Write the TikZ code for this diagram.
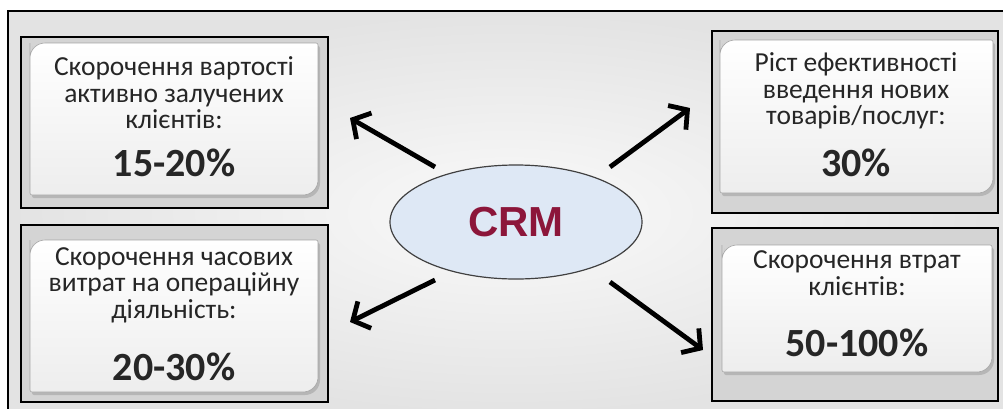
\documentclass[tikz,border=0pt]{standalone}
\usepackage{fontspec}
\setmainfont{Carlito}
\newfontfamily\crmfont{Liberation Sans}
\usetikzlibrary{arrows.meta,shapes.geometric,shadows}
\definecolor{crmred}{RGB}{140,22,58}
\definecolor{ellfill}{RGB}{222,232,245}
\definecolor{boxgray}{RGB}{212,212,212}
\begin{document}
\begin{tikzpicture}[x=1pt,y=-1pt,
  outerbox/.style={draw=black,line width=1.4pt,fill=boxgray},
  innerbox/.style={draw=gray!70,line width=0.6pt,top color=white,bottom color=gray!14,
     drop shadow={shadow xshift=2pt,shadow yshift=-3pt,opacity=0.35}},
  desc/.style={font=\fontsize{27.5}{26.5}\selectfont,text=black!85,align=center,inner sep=0pt},
  pct/.style={font=\fontsize{40}{42}\selectfont\bfseries,text=black!85,inner sep=0pt},
  arr/.style={line width=4.8pt,-{Straight Barb[length=13pt,width=30pt]}}]
\useasboundingbox (0,0) rectangle (1003,408);
\fill[white] (0,0) rectangle (1003,408);
\shade[inner color=gray!4,outer color=gray!22,shading=radial] (8,11) rectangle (1010,415);
\draw[line width=1.4pt] (8,415) -- (8,11) -- (1010,11);
% outer boxes
\draw[outerbox] (21,37) rectangle (328,208);
\draw[outerbox] (712,31) rectangle (998,213);
\draw[outerbox] (21,225) rectangle (328,402);
\draw[outerbox] (712,228) rectangle (998,401);
% inner rounded boxes (round diagonal corners)
\path[innerbox] (30,58) [rounded corners=2pt] -- (30,195) [rounded corners=15pt] -- (318,195) [rounded corners=2pt] -- (318,43) [rounded corners=15pt] -- (30,43) -- cycle;
\path[innerbox] (720,55) [rounded corners=2pt] -- (720,193) [rounded corners=15pt] -- (993,193) [rounded corners=2pt] -- (993,40) [rounded corners=15pt] -- (720,40) -- cycle;
\path[innerbox] (30,255) [rounded corners=2pt] -- (30,392) [rounded corners=15pt] -- (318,392) [rounded corners=2pt] -- (318,240) [rounded corners=15pt] -- (30,240) -- cycle;
\path[innerbox] (722,260) [rounded corners=2pt] -- (722,372) [rounded corners=15pt] -- (992,372) [rounded corners=2pt] -- (992,245) [rounded corners=15pt] -- (722,245) -- cycle;
% texts
\node[desc] (t1) at (174,93) {Скорочення вартості\\активно залучених\\клієнтів:};
\node[pct] (p1) at (174,163) {15-20\%};
\node[desc] (t2) at (856,91) {Ріст ефективності\\введення нових\\товарів/послуг:};
\node[pct] (p2) at (856,163) {30\%};
\node[desc] (t3) at (174,285) {Скорочення часових\\витрат на операційну\\діяльність:};
\node[pct] (p3) at (174,367) {20-30\%};
\node[desc] (t4) at (857,273) {Скорочення втрат\\клієнтів:};
\node[pct] (p4) at (857,343) {50-100\%};
% center ellipse
\node[ellipse,draw=black!75,line width=1.2pt,fill=ellfill,minimum width=252pt,minimum height=114pt,
      font=\crmfont\bfseries\fontsize{42}{44}\selectfont,text=crmred] (crm) at (516,222) {CRM};
% arrows
\coordinate (a1s) at (435,167); \coordinate (a1e) at (350,118);
\coordinate (a2s) at (610,167); \coordinate (a2e) at (690,108);
\coordinate (a3s) at (435,280); \coordinate (a3e) at (350,322);
\coordinate (a4s) at (610,282); \coordinate (a4e) at (703,350);
\draw[arr] (a1s) -- (a1e);
\draw[arr] (a2s) -- (a2e);
\draw[arr] (a3s) -- (a3e);
\draw[arr] (a4s) -- (a4e);
\end{tikzpicture}
\end{document}
